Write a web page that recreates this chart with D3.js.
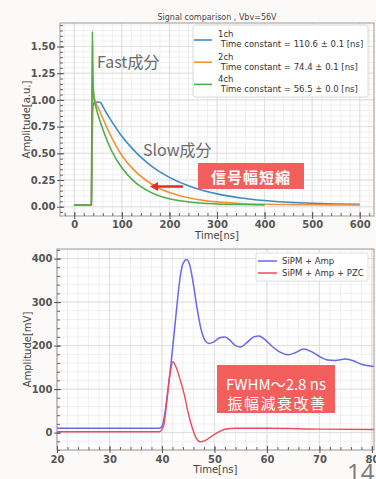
<!DOCTYPE html>
<html><head><meta charset="utf-8">
<script src="https://cdn.jsdelivr.net/npm/d3@7"></script>
<style>body{margin:0;background:#fff;} svg{display:block;}</style>
</head><body>
<svg id="c" width="376" height="479"></svg>
<script>
// ---------- DATA ----------
const topTitle = "Signal comparison , Vbv=56V";
const topNames = ["1ch", "2ch", "4ch"];
const topTauText = ["110.6 ± 0.1", "74.4 ± 0.1", "56.5 ± 0.0"];
const topXTicks = [0, 100, 200, 300, 400, 500, 600];
const topYTicks = [0, 0.25, 0.5, 0.75, 1.0, 1.25, 1.5];

const t1ch = [0, 36, 37, 38, 39, 41, 45, 50, 55, 60, 70, 80, 100, 125, 150, 175, 200, 250, 300, 350, 400, 450, 500, 550, 600];
const v1ch = [0.015, 0.015, 0.3, 0.75, 0.93, 0.97, 0.975, 0.98, 0.975, 0.94, 0.86, 0.79, 0.66, 0.53, 0.425, 0.34, 0.275, 0.18, 0.12, 0.082, 0.058, 0.042, 0.032, 0.026, 0.022];
const t2ch = [0, 36, 37, 38, 39, 41, 43, 45, 50, 55, 65, 80, 100, 125, 150, 175, 200, 250, 300, 350, 400, 450, 500, 550, 600];
const v2ch = [0.015, 0.015, 0.7, 1.19, 1.12, 1.04, 1.0, 0.975, 0.93, 0.88, 0.775, 0.635, 0.48, 0.345, 0.25, 0.18, 0.133, 0.075, 0.045, 0.03, 0.023, 0.02, 0.018, 0.017, 0.016];
const t4ch = [0, 36, 37, 38, 39, 40, 42, 45, 50, 55, 65, 80, 100, 125, 150, 175, 200, 250, 300, 350, 400];
const v4ch = [0.015, 0.015, 0.9, 1.64, 1.3, 1.1, 1.0, 0.94, 0.86, 0.79, 0.665, 0.51, 0.365, 0.24, 0.16, 0.108, 0.075, 0.04, 0.026, 0.02, 0.017];

const botNames = ["SiPM + Amp", "SiPM + Amp + PZC"];
const botXTicks = [20, 30, 40, 50, 60, 70, 80];
const botYTicks = [0, 100, 200, 300, 400];
const tAmp = [20, 30, 39.5, 40, 40.5, 41, 41.5, 42, 42.5, 43, 43.5, 44, 44.7, 45.3, 46, 46.7, 47.5, 48.2, 48.9, 49.8, 51, 52, 53, 54, 55, 56, 57.5, 58.5, 59.5, 61, 62.5, 64, 65.5, 67, 68.5, 70, 71.5, 73, 75, 76.5, 78, 80.4];
const vAmp = [10, 10, 10, 14, 40, 85, 135, 190, 250, 310, 360, 388, 398, 385, 340, 285, 235, 212, 205, 208, 218, 220, 212, 200, 197, 205, 220, 222, 215, 198, 185, 179, 184, 192, 186, 175, 167, 166, 169, 165, 157, 152];
const tPzc = [20, 30, 39.5, 40.3, 41, 41.6, 42.1, 42.7, 43.5, 44.3, 45, 45.8, 46.5, 47.3, 48.3, 49.5, 51, 52.5, 54, 60, 70, 80.4];
const vPzc = [2, 2, 2, 15, 80, 140, 163, 150, 120, 85, 45, 10, -12, -21, -18, -8, 3, 9, 10, 10, 8, 7];

// ---------- DRAW ----------
const svg = d3.select("#c");
svg.append("rect").attr("width", 376).attr("height", 479).attr("fill", "#fcfaf8");

const TICKFONT = "DejaVu Sans";

function chart(o) {
  const x = d3.scaleLinear().domain(o.xDomain).range([o.left, o.right]);
  const y = d3.scaleLinear().domain(o.yDomain).range([o.bottom, o.top]);
  const g = svg.append("g");
  g.append("rect").attr("x", o.left).attr("y", o.top)
    .attr("width", o.right - o.left).attr("height", o.bottom - o.top).attr("fill", "#fff");
  const xMin = d3.range(o.xMinor[0], o.xMinor[1] + 1e-9, o.xMinor[2]);
  const yMin = d3.range(o.yMinor[0], o.yMinor[1] + 1e-9, o.yMinor[2]);
  g.append("g").selectAll("line").data(xMin).join("line")
    .attr("x1", d => x(d)).attr("x2", d => x(d)).attr("y1", o.top).attr("y2", o.bottom)
    .attr("stroke", "#ececec").attr("stroke-width", 0.8);
  g.append("g").selectAll("line").data(yMin).join("line")
    .attr("y1", d => y(d)).attr("y2", d => y(d)).attr("x1", o.left).attr("x2", o.right)
    .attr("stroke", "#ececec").attr("stroke-width", 0.8);
  g.append("g").selectAll("line").data(o.xTicks).join("line")
    .attr("x1", d => x(d)).attr("x2", d => x(d)).attr("y1", o.top).attr("y2", o.bottom)
    .attr("stroke", "#dcdcdc").attr("stroke-width", 0.9);
  g.append("g").selectAll("line").data(o.yTicks).join("line")
    .attr("y1", d => y(d)).attr("y2", d => y(d)).attr("x1", o.left).attr("x2", o.right)
    .attr("stroke", "#dcdcdc").attr("stroke-width", 0.9);
  const line = d3.line().x(d => x(d[0])).y(d => y(d[1])).curve(d3.curveMonotoneX);
  o.series.forEach(s => {
    g.append("path").attr("d", line(d3.zip(s.t, s.v)))
      .attr("fill", "none").attr("stroke", s.color).attr("stroke-width", s.w || 1.6)
      .attr("stroke-linejoin", "round");
  });
  g.append("rect").attr("x", o.left).attr("y", o.top)
    .attr("width", o.right - o.left).attr("height", o.bottom - o.top)
    .attr("fill", "none").attr("stroke", "#999").attr("stroke-width", 1);
  const xm = d3.axisBottom(x).tickValues(xMin.filter(v => v >= o.xDomain[0] && v <= o.xDomain[1])).tickSizeInner(-3).tickSizeOuter(0).tickFormat("");
  const ym = d3.axisLeft(y).tickValues(yMin.filter(v => v >= o.yDomain[0] && v <= o.yDomain[1])).tickSizeInner(-3).tickSizeOuter(0).tickFormat("");
  g.append("g").attr("transform", `translate(0,${o.bottom})`).call(xm)
    .call(a => { a.select(".domain").remove(); a.selectAll("line").attr("stroke", "#666"); });
  g.append("g").attr("transform", `translate(${o.left},0)`).call(ym)
    .call(a => { a.select(".domain").remove(); a.selectAll("line").attr("stroke", "#666"); });
  const xa = d3.axisBottom(x).tickValues(o.xTicks).tickSizeInner(3).tickSizeOuter(0).tickPadding(o.xPad).tickFormat(o.xFmt);
  const ya = d3.axisLeft(y).tickValues(o.yTicks).tickSizeInner(3).tickSizeOuter(0).tickPadding(1.5).tickFormat(o.yFmt);
  g.append("g").attr("transform", `translate(0,${o.bottom})`).call(xa)
    .call(a => {
      a.select(".domain").remove();
      a.selectAll("line").attr("stroke", "#555").attr("y1", -4).attr("y2", 3);
      a.selectAll("text").attr("font-family", TICKFONT).attr("font-size", 10).attr("font-weight", "bold").attr("fill", "#555");
    });
  g.append("g").attr("transform", `translate(${o.left},0)`).call(ya)
    .call(a => {
      a.select(".domain").remove();
      a.selectAll("line").attr("stroke", "#555").attr("x1", 4).attr("x2", -3);
      a.selectAll("text").attr("font-family", TICKFONT).attr("font-size", 10).attr("font-weight", "bold").attr("fill", "#555");
    });
  g.append("text").attr("x", (o.left + o.right) / 2).attr("y", o.xLabelY)
    .attr("text-anchor", "middle").attr("font-family", TICKFONT).attr("font-size", 10)
    .attr("fill", "#444").text(o.xLabel);
  g.append("text").attr("transform", `translate(${o.yLabelX},${(o.top + o.bottom) / 2}) rotate(-90)`)
    .attr("text-anchor", "middle").attr("dominant-baseline", "central")
    .attr("font-family", TICKFONT).attr("font-size", 10).attr("fill", "#444").text(o.yLabel);
  return { x, y, g };
}

const topColors = ["#3d8ac4", "#f39237", "#4cae4c"];
chart({
  left: 60, right: 374, top: 23, bottom: 216,
  xDomain: [-30, 630], yDomain: [-0.087, 1.72],
  xTicks: topXTicks, yTicks: topYTicks,
  xMinor: [-20, 620, 20], yMinor: [-0.05, 1.7, 0.05],
  xFmt: d3.format("d"), yFmt: d3.format(".2f"), xPad: 1.5,
  xLabel: "Time[ns]", xLabelY: 238.5, yLabel: "Amplitude[a.u.]", yLabelX: 26,
  series: [
    { t: t1ch, v: v1ch, color: topColors[0] },
    { t: t2ch, v: v2ch, color: topColors[1] },
    { t: t4ch, v: v4ch, color: topColors[2] }
  ]
});

svg.append("text").attr("x", 217).attr("y", 20).attr("text-anchor", "middle")
  .attr("font-family", TICKFONT).attr("font-size", 8).attr("fill", "#444").text(topTitle);

const lg = svg.append("g");
lg.append("rect").attr("x", 193).attr("y", 25).attr("width", 175).attr("height", 72).attr("rx", 2)
  .attr("fill", "#fff").attr("stroke", "#d0d0d0").attr("stroke-width", 0.8);
topNames.forEach((n, i) => {
  const yy = 40 + i * 22.2;
  lg.append("line").attr("x1", 194).attr("x2", 212).attr("y1", yy).attr("y2", yy)
    .attr("stroke", topColors[i]).attr("stroke-width", 1.6);
  lg.append("text").attr("x", 218).attr("y", yy - 2.7).attr("font-family", TICKFONT)
    .attr("font-size", 8.5).attr("fill", "#333").text(n);
  lg.append("text").attr("x", 218).attr("y", yy + 7.3).attr("font-family", TICKFONT)
    .attr("font-size", 8.5).attr("fill", "#333").attr("xml:space", "preserve")
    .text(" Time constant = " + topTauText[i] + " [ns]");
});

const CJK = "'Noto Sans CJK JP', 'Noto Sans', sans-serif";
svg.append("text").attr("x", 97).attr("y", 68).attr("font-family", CJK).attr("font-size", 16)
  .attr("fill", "#6b6b6b").text("Fast成分");
svg.append("text").attr("x", 143).attr("y", 156).attr("font-family", CJK).attr("font-size", 16)
  .attr("fill", "#6b6b6b").text("Slow成分");
svg.append("rect").attr("x", 198).attr("y", 163).attr("width", 106).attr("height", 26).attr("fill", "#f25f5c");
svg.append("text").attr("x", 251).attr("y", 176).attr("text-anchor", "middle").attr("dominant-baseline", "central")
  .attr("font-family", CJK).attr("font-size", 15).attr("font-weight", "bold").attr("letter-spacing", 1)
  .attr("fill", "#fff").text("信号幅短縮");
svg.append("line").attr("x1", 183).attr("x2", 156).attr("y1", 186.5).attr("y2", 186.5)
  .attr("stroke", "#e52b2b").attr("stroke-width", 2.5);
svg.append("path").attr("d", "M150,186.5 L158,182 L158,191 Z").attr("fill", "#e52b2b");

const botColors = ["#6767f0", "#f04a5a"];
chart({
  left: 57, right: 374, top: 249, bottom: 450,
  xDomain: [20, 80.4], yDomain: [-40, 422],
  xTicks: botXTicks, yTicks: botYTicks,
  xMinor: [20, 80, 2], yMinor: [-40, 420, 20],
  xFmt: d3.format("d"), yFmt: d3.format("d"), xPad: 2.5,
  xLabel: "Time[ns]", xLabelY: 473, yLabel: "Amplitude[mV]", yLabelX: 27,
  series: [
    { t: tAmp, v: vAmp, color: botColors[0], w: 1.5 },
    { t: tPzc, v: vPzc, color: botColors[1], w: 1.4 }
  ]
});

const lb = svg.append("g");
lb.append("rect").attr("x", 256).attr("y", 253).attr("width", 112).attr("height", 28).attr("rx", 2)
  .attr("fill", "#fff").attr("stroke", "#d8d8d8").attr("stroke-width", 0.8);
botNames.forEach((n, i) => {
  const yy = 261 + i * 12;
  lb.append("line").attr("x1", 258).attr("x2", 277).attr("y1", yy).attr("y2", yy)
    .attr("stroke", botColors[i]).attr("stroke-width", 1.5);
  lb.append("text").attr("x", 282).attr("y", yy + 3).attr("font-family", TICKFONT)
    .attr("font-size", 8.5).attr("fill", "#333").text(n);
});

svg.append("rect").attr("x", 217).attr("y", 365).attr("width", 118).attr("height", 48).attr("fill", "#f25f5c");
svg.append("text").attr("x", 276).attr("y", 383).attr("text-anchor", "middle").attr("dominant-baseline", "central")
  .attr("font-family", CJK).attr("font-size", 15).attr("fill", "#fff").text("FWHM〜2.8 ns");
svg.append("text").attr("x", 277).attr("y", 402).attr("text-anchor", "middle").attr("dominant-baseline", "central")
  .attr("font-family", CJK).attr("font-size", 15).attr("letter-spacing", 1.5).attr("fill", "#fff").text("振幅減衰改善");

svg.append("text").attr("x", 347).attr("y", 481).attr("font-family", "'Open Sans', sans-serif")
  .attr("font-size", 24).attr("fill", "#7a7a7a").text("14");
</script>
</body></html>
